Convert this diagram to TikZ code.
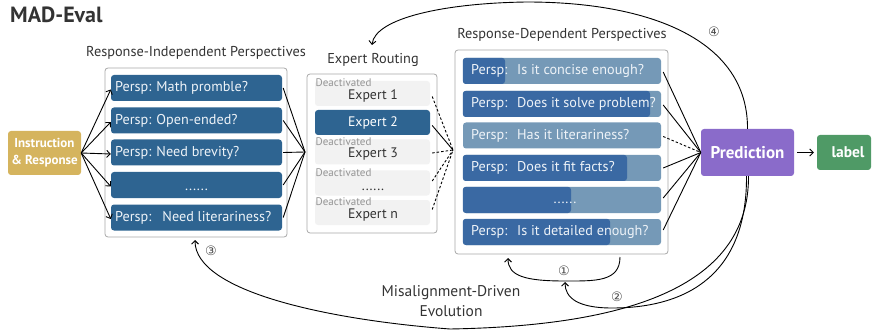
\documentclass[tikz,border=0pt]{standalone}
\usepackage{fontspec}
\setmainfont{PT Sans}
\newfontfamily\circfont{DejaVu Sans}
\usetikzlibrary{arrows.meta}

\definecolor{perspblue}{HTML}{2E6491}
\definecolor{depback}{HTML}{7599B7}
\definecolor{depbar}{HTML}{3A69A3}
\definecolor{offgray}{HTML}{F2F2F2}
\definecolor{framegray}{HTML}{A8A8A8}
\definecolor{inkdark}{HTML}{333333}
\definecolor{instrgold}{HTML}{D5B45E}
\definecolor{predpurple}{HTML}{8A6BCA}
\definecolor{labelgreen}{HTML}{4F9A66}
\definecolor{lighttext}{HTML}{EEF3F8}

\begin{document}
\begin{tikzpicture}[x=1pt,y=-1pt,
  frame/.style={draw=framegray, line width=0.8pt, fill=white, rounded corners=3pt,
    inner sep=0pt},
  indbox/.style={fill=perspblue, rounded corners=3pt, minimum width=171pt,
    minimum height=26pt, inner sep=0pt},
  indtext/.style={text=lighttext, font=\fontsize{14.2}{16}\selectfont, anchor=west,
    inner sep=0pt},
  depbox/.style={fill=depback, rounded corners=3pt, minimum width=198pt,
    minimum height=26pt, inner sep=0pt},
  deptext/.style={text=lighttext, font=\fontsize{14.2}{16}\selectfont, anchor=west,
    inner sep=0pt},
  expoff/.style={fill=offgray, rounded corners=3pt, minimum width=115pt,
    minimum height=25pt, inner sep=0pt},
  expon/.style={fill=perspblue, rounded corners=3pt, minimum width=115pt,
    minimum height=25pt, inner sep=0pt},
  exptext/.style={text=inkdark, font=\fontsize{13.8}{16}\selectfont, inner sep=0pt},
  deact/.style={text=black!42, font=\fontsize{11}{12}\selectfont, anchor=west,
    inner sep=0pt},
  heading/.style={text=inkdark, font=\fontsize{14.3}{16}\selectfont, inner sep=0pt},
  solidbox/.style={rounded corners=3pt, text=white, inner sep=0pt, align=center},
  link/.style={line width=0.9pt, black},
  dlink/.style={line width=0.9pt, black, dash pattern=on 2.5pt off 2pt},
  arr/.style={line width=0.9pt, black, -{Straight Barb[length=3.5pt,width=7pt]}},
  circnum/.style={text=black!70, font=\circfont\fontsize{13}{14}\selectfont, inner sep=0pt}
]
\useasboundingbox (0,0) rectangle (872,331);

% title
\node[anchor=west, inner sep=0pt, text=inkdark,
  font=\fontsize{22}{24}\selectfont\bfseries] (title) at (10,15) {MAD-Eval};

% input
\node[solidbox, fill=instrgold, minimum width=73pt, minimum height=44pt,
  font=\fontsize{13}{17}\selectfont\bfseries] (instr) at (44.5,153)
  {Instruction\\\& Response};

% response-independent perspectives
\node[heading] (indhead) at (196,53) {Response-Independent Perspectives};
\node[frame, minimum width=182pt, minimum height=169pt] (indframe) at (196,152.5) {};
\node[indbox] (p1) at (196.5,88) {};
\node[indbox] (p2) at (196.5,120.5) {};
\node[indbox] (p3) at (196.5,152.5) {};
\node[indbox] (p4) at (196.5,185) {};
\node[indbox] (p5) at (196.5,217.5) {};
\node[indtext] (p1t) at (115,88) {Persp: Math promble?};
\node[indtext] (p2t) at (115,120.5) {Persp: Open-ended?};
\node[indtext] (p3t) at (115,152.5) {Persp: Need brevity?};
\node[text=lighttext, font=\fontsize{14.2}{16}\selectfont, inner sep=0pt, anchor=base] (p4t) at (196.5,190) {......};
\node[indtext] (p5t) at (115,217.5) {Persp:\hspace{6pt} Need literariness?};

% expert routing
\node[heading] (exphead) at (373,60) {Expert Routing};
\node[frame, minimum width=130pt, minimum height=159pt] (expframe) at (372,153.5) {};
\node[expoff] (e1) at (372.5,93.5) {};
\node[expon] (e2) at (372.5,122.5) {};
\node[expoff] (e3) at (372.5,152) {};
\node[expoff] (e4) at (372.5,183) {};
\node[expoff] (e5) at (372.5,212.5) {};
\node[deact] (d1) at (315.5,83) {Deactivated};
\node[deact] (d3) at (315.5,142) {Deactivated};
\node[deact] (d4) at (315.5,173) {Deactivated};
\node[deact] (d5) at (315.5,202) {Deactivated};
\node[exptext] (e1t) at (373,96) {Expert 1};
\node[exptext, text=white] (e2t) at (373,122.5) {Expert 2};
\node[exptext] (e3t) at (373,154.5) {Expert 3};
\node[exptext, anchor=base] (e4t) at (373,190) {......};
\node[exptext] (e5t) at (373,215) {Expert n};

% response-dependent perspectives
\node[heading] (dephead) at (562,35) {Response-Dependent Perspectives};
\node[frame, minimum width=213pt, minimum height=204pt] (depframe) at (561.5,152) {};
\node[depbox] (r1) at (562,71) {};
\node[depbox] (r2) at (562,104) {};
\node[depbox] (r3) at (562,135.5) {};
\node[depbox] (r4) at (562,168) {};
\node[depbox] (r5) at (562,200) {};
\node[depbox] (r6) at (562,232) {};
% scores shown as filled bars
\fill[depbar, rounded corners=3pt] (r1.north west) rectangle (505,84);
\fill[depbar, rounded corners=3pt] (r2.north west) rectangle (650,117);
\fill[depbar, rounded corners=3pt] (r4.north west) rectangle (627,181);
\fill[depbar, rounded corners=3pt] (r5.north west) rectangle (571,213);
\fill[depbar, rounded corners=3pt] (r6.north west) rectangle (610,245);
\node[deptext] (r1t) at (471,71) {\makebox[46pt][l]{Persp:}Is it concise enough?};
\node[deptext] (r2t) at (471,104) {\makebox[46pt][l]{Persp:}Does it solve problem?};
\node[deptext] (r3t) at (471,135.5) {\makebox[46pt][l]{Persp:}Has it literariness?};
\node[deptext] (r4t) at (471,168) {\makebox[46pt][l]{Persp:}Does it fit facts?};
\node[text=lighttext, font=\fontsize{14.2}{16}\selectfont, inner sep=0pt, anchor=base] (r5t) at (565,204) {......};
\node[deptext] (r6t) at (471,232) {\makebox[46pt][l]{Persp:}Is it detailed enough?};

% prediction and label
\node[solidbox, fill=predpurple, minimum width=93pt, minimum height=47pt,
  font=\fontsize{17}{19}\selectfont\bfseries] (pred) at (747.5,152.5) {Prediction};
\node[solidbox, fill=labelgreen, minimum width=54pt, minimum height=35pt] (lab) at (844,152.5) {};
\node[text=white, inner sep=0pt, font=\fontsize{15.5}{17}\selectfont\bfseries] (labt) at (848,152.5) {label};

% junction points
\coordinate (routeIn) at (305,152);
\coordinate (depIn) at (453,150);

% input fan-out
\foreach \p in {p1,p2,p3,p4,p5}
  \draw[arr] (instr.east) -- ([yshift=-1.5pt]\p.west);

% into the router
\foreach \p in {p1,p2,p3,p4,p5}
  \draw[link] ([xshift=1pt]\p.east) -- (routeIn);

% router outputs
\draw[dlink] ([xshift=2pt,yshift=-3pt]e1.east) -- (depIn);
\draw[link]  ([xshift=2pt,yshift=-3pt]e2.east) -- (depIn);
\draw[dlink] ([xshift=2pt,yshift=-1pt]e3.east) -- (depIn);
\draw[dlink] ([xshift=2pt,yshift=2pt]e4.east) -- (depIn);
\draw[dlink] ([xshift=2pt,yshift=3pt]e5.east) -- (depIn);

% dependent perspectives into prediction
\draw[link]  ([xshift=2pt,yshift=-1pt]r1.east) -- (pred.west);
\draw[link]  ([xshift=2pt,yshift=-1pt]r2.east) -- (pred.west);
\draw[dlink] ([xshift=2pt,yshift=-1pt]r3.east) -- (pred.west);
\draw[link]  ([xshift=2pt]r4.east) -- (pred.west);
\draw[link]  ([xshift=2pt,yshift=2pt]r5.east) -- (pred.west);
\draw[link]  ([xshift=2pt,yshift=2pt]r6.east) -- (pred.west);

\draw[arr] ([xshift=3pt]pred.east) -- ([xshift=-3pt]lab.west);

% evolution loops
\coordinate (loopA) at (620,257);
\coordinate (loopB) at (508,258);
\coordinate (loopMid) at (565,281);
\coordinate (loopC) at (195,240);
\coordinate (loopD) at (372,45);

% (1)
\draw[arr] (loopA) .. controls (620,282) and (595,281) .. (loopMid)
                   .. controls (525,281) and (508,276) .. (loopB);
% (2)
\draw[arr] ([xshift=-1pt]pred.south) .. controls (747,272) and (690,308) .. (612,308)
                   .. controls (578,308) and (565,298) .. ([yshift=-1pt]loopMid);
% (3)
\draw[arr] ([xshift=1pt]pred.south) .. controls (749,290) and (620,326) .. (450,329)
                   .. controls (330,320) and (195,292) .. (loopC);
% (4)
\draw[arr] (pred.north) .. controls (748,40) and (650,2) .. (527,2)
                   .. controls (445,3) and (375,18) .. (loopD);

\node[circnum] (n1) at (564,271) {①};
\node[circnum] (n2) at (617,297) {②};
\node[circnum] (n3) at (211,251) {③};
\node[circnum] (n4) at (714,32) {④};

\node[text=inkdark, font=\fontsize{15.5}{20}\selectfont, align=center, inner sep=0pt]
  (evo) at (451,301) {Misalignment-Driven\\Evolution};
\end{tikzpicture}
\end{document}
